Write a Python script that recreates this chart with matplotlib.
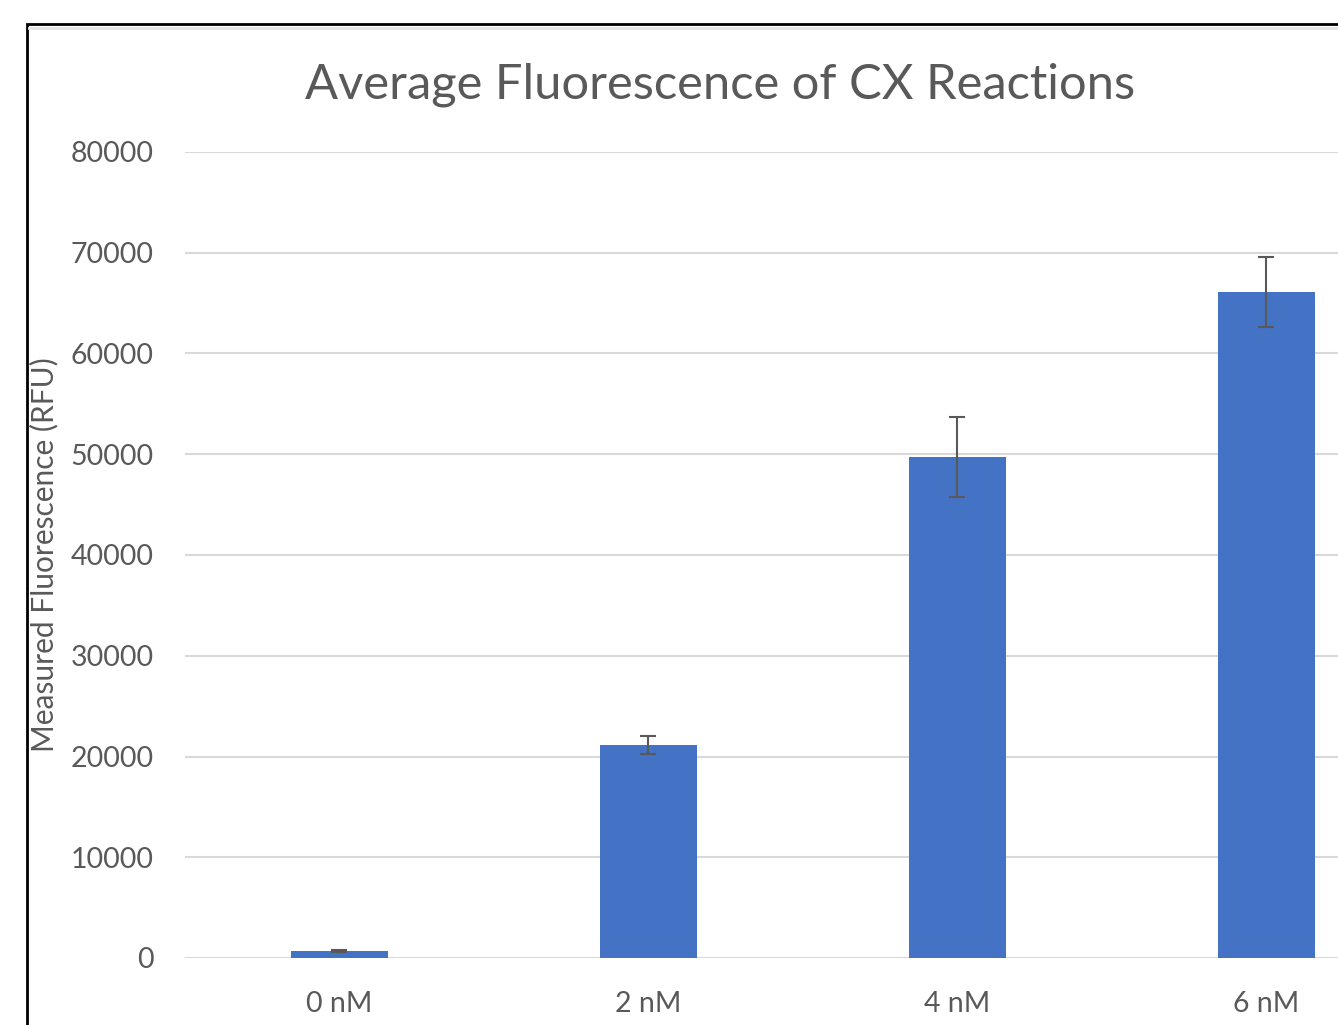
import matplotlib
matplotlib.use("Agg")
import matplotlib.pyplot as plt
from matplotlib.patches import Rectangle
from matplotlib.lines import Line2D

categories = ["0 nM", "2 nM", "4 nM", "6 nM"]
values = [700, 21140, 49730, 66100]
errors = [100, 850, 3980, 3480]
yticks = [0, 10000, 20000, 30000, 40000, 50000, 60000, 70000, 80000]

W, H = 1338, 1025
fig = plt.figure(figsize=(W / 100, H / 100), dpi=100)
plt.rcParams['font.family'] = ['Lato', 'DejaVu Sans']

# frame (cropped chart border)
fig.patches.append(Rectangle((27 / W, -0.1), 1.2, 1 - 24 / H + 0.1, transform=fig.transFigure,
                             fill=False, edgecolor='black', linewidth=2, zorder=0))
fig.lines.append(Line2D([29 / W, 1.0], [1 - 27.5 / H, 1 - 27.5 / H], transform=fig.transFigure,
                        color='#E6E6E6', linewidth=2))

ax_left = 185 / W
ax_width = (1420.5 - 185) / W
ax_bottom = (H - 958) / H
ax_height = (958 - 152) / H
ax = fig.add_axes([ax_left, ax_bottom, ax_width, ax_height])
ax.set_facecolor('none')

x = range(len(categories))
ax.bar(x, values, width=0.314, color='#4472C4', zorder=3,
       yerr=errors, error_kw=dict(ecolor='#595959', elinewidth=1.5, capsize=6, capthick=1.5, zorder=4))
ax.set_xlim(-0.5, len(categories) - 0.5)
ax.set_ylim(0, 80000)
ax.set_yticks(yticks)
ax.set_yticklabels([str(v) for v in yticks])
ax.set_xticks(list(x))
ax.set_xticklabels(categories)
ax.grid(axis='y', color='#D9D9D9', linewidth=1.5, zorder=0)
ax.set_axisbelow(True)
for s in ax.spines.values():
    s.set_visible(False)
ax.tick_params(axis='y', length=0, pad=22.5, labelsize=20.5, labelcolor='#595959')
ax.tick_params(axis='x', length=0, pad=24, labelsize=20.5, labelcolor='#595959')
ax.set_ylabel("Measured Fluorescence (RFU)", fontsize=21.5, color='#595959')
ax.yaxis.set_label_coords((58 - 185) / (1420.5 - 185), 0.5)

fig.text(720 / W, 1 - 85 / H, "Average Fluorescence of CX Reactions", ha='center', va='center',
         fontsize=35.2, color='#595959')

fig.savefig("out.png", dpi=100)
